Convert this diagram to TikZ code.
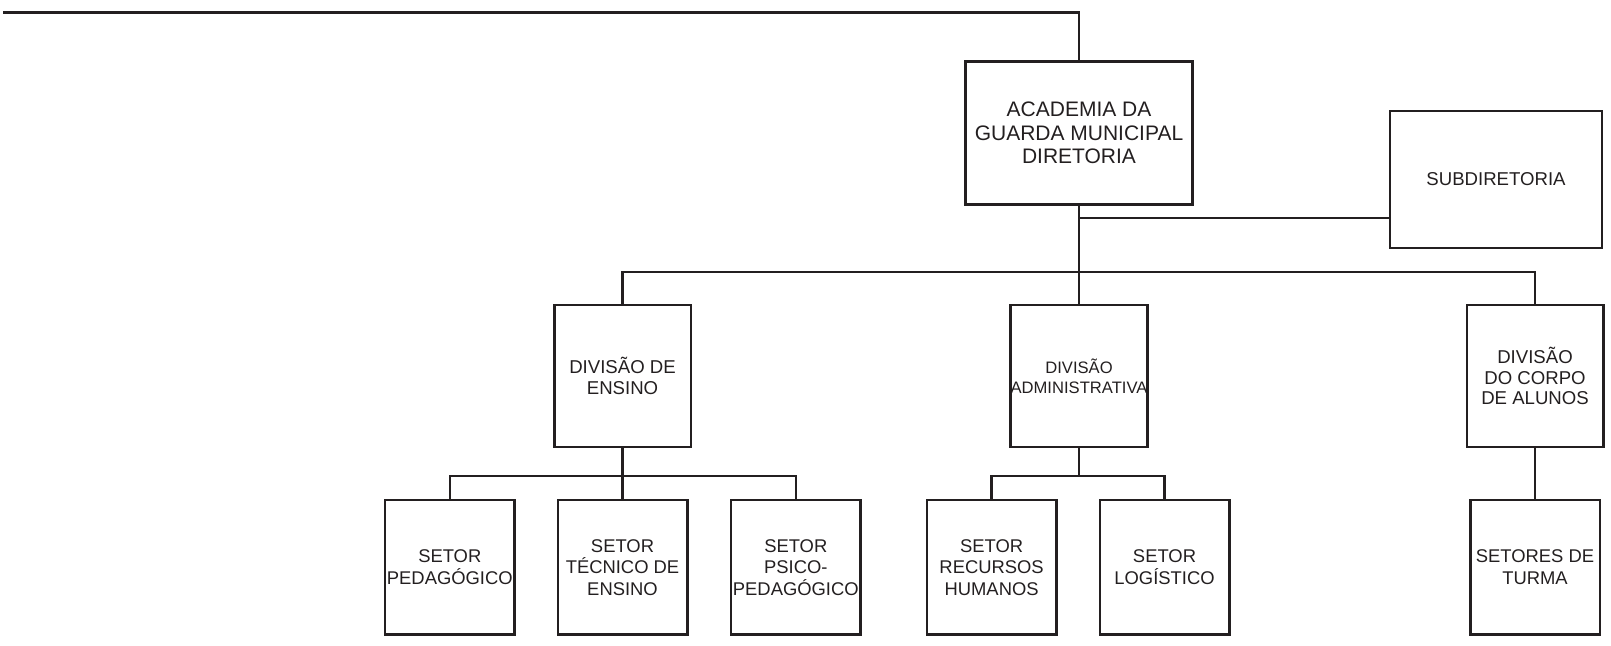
\documentclass[tikz,border=0pt]{standalone}
\usepackage{fontspec}
\setmainfont{Liberation Sans}
\definecolor{ink}{HTML}{231F20}
\begin{document}
\begin{tikzpicture}[x=0.5pt,y=-0.5pt,line width=1.25pt,
  box/.style={draw=ink,text=ink,inner sep=0pt,align=center,line join=miter},
  mainbox/.style={box,minimum width=113.5pt,minimum height=71.5pt,font=\fontsize{10.5pt}{11.7pt}\selectfont},
  subbox/.style={box,minimum width=106pt,minimum height=68.5pt,font=\fontsize{9.3pt}{10.5pt}\selectfont},
  divbox/.style={box,minimum width=68.25pt,minimum height=71pt,font=\fontsize{9.3pt}{10.4pt}\selectfont},
  setbox/.style={box,minimum width=64.75pt,minimum height=67.35pt,font=\fontsize{9.2pt}{10.8pt}\selectfont},
  link/.style={draw=ink,line width=1.25pt,line join=miter}]
\useasboundingbox (0,0) rectangle (1611,645);
% nodes
\node[mainbox] (main) at (1079,133) {ACADEMIA DA\\GUARDA MUNICIPAL\\DIRETORIA};
\node[subbox] (sub) at (1496,179.5) {SUBDIRETORIA};
\node[divbox] (ens) at (622.5,376) {DIVISÃO DE\\ENSINO};
\node[divbox,font=\fontsize{8.3pt}{10pt}\selectfont] (adm) at (1079,376) {DIVISÃO\\ADMINISTRATIVA};
\node[divbox] (cor) at (1535,376) {DIVISÃO\\DO CORPO\\DE ALUNOS};
\node[setbox] (ped) at (449.8,567.3) {SETOR\\PEDAGÓGICO};
\node[setbox] (tec) at (622.5,567.3) {SETOR\\TÉCNICO DE\\ENSINO};
\node[setbox] (psi) at (795.8,567.3) {SETOR\\PSICO-\\PEDAGÓGICO};
\node[setbox] (rh) at (991.6,567.3) {SETOR\\RECURSOS\\HUMANOS};
\node[setbox] (log) at (1164.5,567.3) {SETOR\\LOGÍSTICO};
\node[setbox] (tur) at (1535,567.3) {SETORES DE\\TURMA};
% coordinates
\coordinate (top) at (3,12.5);
\coordinate (j1) at (1079,218);
\coordinate (b1) at (1079,272);
\coordinate (b2) at (622.5,476);
\coordinate (b3) at (1079,476);
% connectors
\draw[link] (top) -| (main.north);
\draw[link] (main.south) -- (adm.north);
\draw[link] (j1) -- (j1 -| sub.west);
\draw[link] (ens.north) |- (b1) -| (cor.north);
\draw[link] (ens.south) -- (tec.north);
\draw[link] (ped.north) |- (b2) -| (psi.north);
\draw[link] (adm.south) -- (b3);
\draw[link] (rh.north) |- (b3) -| (log.north);
\draw[link] (cor.south) -- (tur.north);
\end{tikzpicture}
\end{document}
